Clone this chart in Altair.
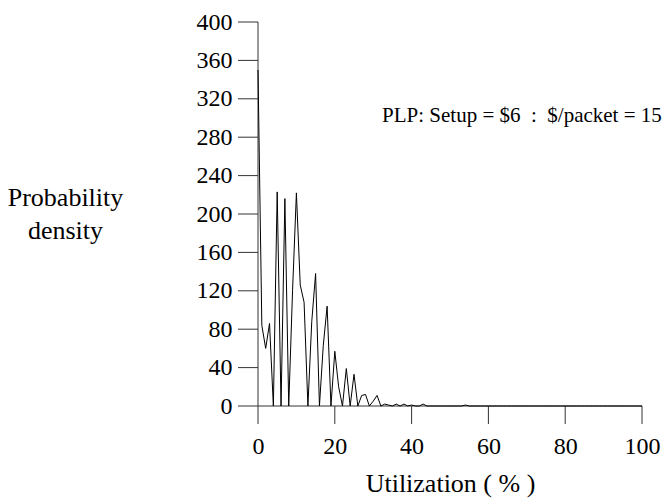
import altair as alt
import pandas as pd

# Utilization (%) and probability density
util = list(range(0, 101))
density_head = [350, 84, 60, 86, 0, 223, 0, 216, 0, 120,
                222, 126, 108, 0, 88, 138, 0, 63, 104, 0,
                57, 20, 0, 39, 0, 33, 0, 11, 12, 0,
                5, 11, 0, 2, 1, 0, 2, 0, 2, 0,
                1, 0, 0, 2, 0, 0, 0, 0, 0, 0,
                0, 0, 0, 0, 1]
density = density_head + [0] * (len(util) - len(density_head))

y_ticks = [0, 40, 80, 120, 160, 200, 240, 280, 320, 360, 400]
x_ticks = [0, 20, 40, 60, 80, 100]

note_text = ["PLP: Setup = $6 \u00a0:\u00a0 $/packet = 15"]
note_x = [32.3]
note_y = [296]

FONT = "Liberation Serif"
AX = "#333333"
W = 384
H = 384
X0, X1 = 0, 100
Y0, Y1 = 0, 400
YTICK_PX = 20
XTICK_PX = 18

df = pd.DataFrame({"u": util, "d": density})
note = pd.DataFrame({"x": note_x, "y": note_y, "t": note_text})

# axis frame drawn as line paths (tick lengths converted from pixels to data units)
ylen = YTICK_PX * (X1 - X0) / W
xlen = XTICK_PX * (Y1 - Y0) / H
rows = [{"g": "ydom", "a": X0, "b": Y0}, {"g": "ydom", "a": X0, "b": Y1},
        {"g": "xdom", "a": X0, "b": Y0}, {"g": "xdom", "a": X1, "b": Y0}]
for t in y_ticks:
    rows += [{"g": f"y{t}", "a": X0 - ylen, "b": t}, {"g": f"y{t}", "a": X0, "b": t}]
for t in x_ticks:
    rows += [{"g": f"x{t}", "a": t, "b": Y0}, {"g": f"x{t}", "a": t, "b": Y0 - xlen}]
frame = pd.DataFrame(rows)

xscale = alt.Scale(domain=[X0, X1], nice=False, zero=False)
yscale = alt.Scale(domain=[Y0, Y1], nice=False)

common = dict(grid=False, ticks=True, domain=False, tickOpacity=0,
              labelFont=FONT, titleFont=FONT,
              labelColor="black", titleColor="black",
              labelOverlap=False, labelFlush=False,
              labelFontSize=24, titleFontSize=26, titleFontWeight="normal",
              titleBaseline="alphabetic")

xaxis = alt.Axis(values=x_ticks, title="Utilization ( % )",
                 tickSize=XTICK_PX, labelPadding=10, titleY=85, **common)
yaxis = alt.Axis(values=y_ticks, title=["Probability", "density"],
                 tickSize=YTICK_PX, labelPadding=6, titleAngle=0,
                 titleAlign="center", titleX=-193, titleY=183,
                 titleLineHeight=33, **common)

axes_lines = alt.Chart(frame).mark_line(color=AX, strokeWidth=1).encode(
    x=alt.X("a:Q", scale=xscale, axis=xaxis),
    y=alt.Y("b:Q", scale=yscale, axis=yaxis),
    detail="g:N",
    order=alt.Order("b:Q"),
)

line = alt.Chart(df).mark_line(color="black", strokeWidth=1, interpolate="linear").encode(
    x=alt.X("u:Q", scale=xscale, axis=xaxis),
    y=alt.Y("d:Q", scale=yscale, axis=yaxis),
)

text = alt.Chart(note).mark_text(align="left", baseline="alphabetic", font=FONT,
                                  fontSize=21, color="black").encode(
    x=alt.X("x:Q", scale=xscale, axis=xaxis),
    y=alt.Y("y:Q", scale=yscale, axis=yaxis),
    text="t:N",
)

chart = alt.layer(axes_lines, line, text).properties(
    width=W, height=H,
    background="white",
    autosize=alt.AutoSizeParams(type="none"),
    padding={"left": 258, "top": 22, "right": 24, "bottom": 93},
).configure_view(stroke=None)

chart.save("out.html", embed_options={"renderer": "svg", "actions": False})
